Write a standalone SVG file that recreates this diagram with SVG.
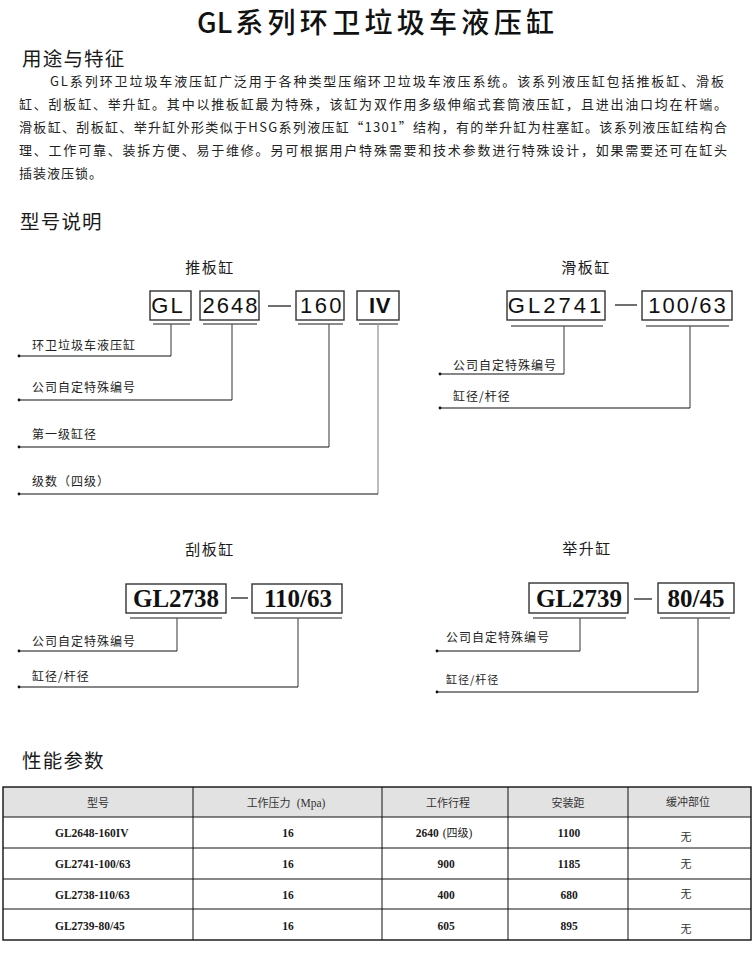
<svg xmlns="http://www.w3.org/2000/svg" width="756" height="953" viewBox="0 0 756 953">
<style>
.cjk{font-family:'Noto Sans CJK SC',sans-serif;fill:#1a1a1a}
.title{font-size:28px;fill:#111;font-weight:500}
.h2{font-size:19.5px;letter-spacing:1.2px}
.para{font-size:13px;fill:#222}
.sub{font-size:15px;letter-spacing:1.5px;text-anchor:middle}
.lbl{font-size:12px;letter-spacing:1px;fill:#222}
.lbls{font-size:11px;letter-spacing:1px;fill:#222}
.box{fill:#fff;stroke:#333;stroke-width:1.4}
.bt{font-family:'Liberation Sans','Noto Sans CJK SC',sans-serif;font-size:22px;fill:#111;text-anchor:middle}
.bs{font-family:'Liberation Serif',serif;font-weight:bold;font-size:25px;fill:#111;text-anchor:middle}
.ul{stroke:#666;stroke-width:1.3;fill:none}
.vl{stroke:#555;stroke-width:1.2;fill:none}
.vlg{stroke:#999;stroke-width:1.3;fill:none}
.hl{stroke:#111;stroke-width:1.1;fill:none}
.dash{stroke:#333;stroke-width:1.4}
.dot{fill:#111}
.th{font-family:'Noto Sans CJK SC',sans-serif;font-size:11px;fill:#333;text-anchor:middle}
.td{font-family:'Liberation Serif',serif;font-weight:bold;font-size:11.5px;fill:#1a1a1a;text-anchor:middle}
.tdl{font-family:'Liberation Serif',serif;font-weight:bold;font-size:11.5px;fill:#1a1a1a;text-anchor:start}
.tl{stroke:#111;stroke-width:1;fill:none}
</style>

<g id="header">
<text class="cjk title" x="197" y="33">GL<tspan dx="3" letter-spacing="4.3">系列环卫垃圾车液压缸</tspan></text>
<text class="cjk h2" x="22" y="66">用途与特征</text>
<text class="cjk para" x="50" y="86" textLength="674" lengthAdjust="spacing">GL系列环卫垃圾车液压缸广泛用于各种类型压缩环卫垃圾车液压系统。该系列液压缸包括推板缸、滑板</text>
<text class="cjk para" x="19" y="109" textLength="708" lengthAdjust="spacing">缸、刮板缸、举升缸。其中以推板缸最为特殊，该缸为双作用多级伸缩式套筒液压缸，且进出油口均在杆端。</text>
<text class="cjk para" x="19" y="132" textLength="708" lengthAdjust="spacing">滑板缸、刮板缸、举升缸外形类似于HSG系列液压缸“1301”结构，有的举升缸为柱塞缸。该系列液压缸结构合</text>
<text class="cjk para" x="19" y="155" textLength="708" lengthAdjust="spacing">理、工作可靠、装拆方便、易于维修。另可根据用户特殊需要和技术参数进行特殊设计，如果需要还可在缸头</text>
<text class="cjk para" x="19" y="178" letter-spacing="1">插装液压锁。</text>
<text class="cjk h2" x="20" y="229">型号说明</text>
<text class="cjk h2" x="22" y="768">性能参数</text>
</g>

<g id="push-cylinder">
<text class="cjk sub" x="210" y="273">推板缸</text>
<g id="n-gl"><rect class="box" x="150" y="291" width="41" height="29"/><text class="bt" x="168" y="313" letter-spacing="2">GL</text></g>
<g id="n-2648"><rect class="box" x="200" y="291" width="59" height="29"/><text class="bt" x="231" y="313" letter-spacing="2">2648</text></g>
<g id="n-160"><rect class="box" x="296" y="291" width="48" height="29"/><text class="bt" x="322" y="313" letter-spacing="2.5">160</text></g>
<g id="n-iv"><rect class="box" x="357" y="291" width="42" height="29"/><text class="bt" x="380" y="313" font-weight="bold" letter-spacing="0.5">IV</text></g>
<line class="dash" x1="268" y1="306" x2="291" y2="306"/>
<text class="cjk lbl" x="32" y="350">环卫垃圾车液压缸</text>
<text class="cjk lbl" x="32" y="392">公司自定特殊编号</text>
<text class="cjk lbl" x="32" y="439">第一级缸径</text>
<text class="cjk lbl" x="32" y="486">级数（四级）</text>
</g>

<g id="slide-cylinder">
<text class="cjk sub" x="586" y="273">滑板缸</text>
<g id="n-gl2741"><rect class="box" x="507" y="291" width="98" height="29"/><text class="bt" x="556" y="313" letter-spacing="3">GL2741</text></g>
<g id="n-100-63"><rect class="box" x="642" y="291" width="90" height="29"/><text class="bt" x="688" y="313" letter-spacing="2">100/63</text></g>
<line class="dash" x1="615" y1="305" x2="637" y2="305"/>
<text class="cjk lbl" x="453" y="370">公司自定特殊编号</text>
<text class="cjk lbl" x="453" y="401">缸径/杆径</text>
</g>

<g id="scraper-cylinder">
<text class="cjk sub" x="210" y="555">刮板缸</text>
<g id="n-gl2738"><rect class="box" x="126" y="584" width="100" height="29"/><text class="bs" x="176" y="607">GL2738</text></g>
<g id="n-110-63"><rect class="box" x="252" y="584" width="90" height="29"/><text class="bs" x="298" y="607">110/63</text></g>
<line class="dash" x1="231" y1="598" x2="248" y2="598"/>
<text class="cjk lbl" x="32" y="646">公司自定特殊编号</text>
<text class="cjk lbl" x="32" y="681">缸径/杆径</text>
</g>

<g id="lift-cylinder">
<text class="cjk sub" x="587" y="554">举升缸</text>
<g id="n-gl2739"><rect class="box" x="529" y="583" width="99" height="30"/><text class="bs" x="579" y="607">GL2739</text></g>
<g id="n-80-45"><rect class="box" x="658" y="583" width="76" height="30"/><text class="bs" x="696" y="607">80/45</text></g>
<line class="dash" x1="634" y1="599" x2="652" y2="599"/>
<text class="cjk lbl" x="446" y="642">公司自定特殊编号</text>
<text class="cjk lbls" x="446" y="684">缸径/杆径</text>
</g>

<g id="connectors">
<line class="ul" x1="153" y1="324" x2="190" y2="324"/>
<line class="ul" x1="203" y1="324" x2="257" y2="324"/>
<line class="ul" x1="298" y1="324" x2="343" y2="324"/>
<line class="ul" x1="359" y1="324" x2="398" y2="324"/>
<line class="ul" x1="511" y1="326" x2="603" y2="326"/>
<line class="ul" x1="646" y1="326" x2="729" y2="326"/>
<line class="ul" x1="130" y1="618" x2="222" y2="618"/>
<line class="ul" x1="254" y1="618" x2="342" y2="618"/>
<line class="ul" x1="533" y1="618" x2="626" y2="618"/>
<line class="ul" x1="660" y1="618" x2="730" y2="618"/>
<polyline class="vl" points="171,324 171,356"/>
<polyline class="hl" points="19,356 171,356"/>
<polyline class="vl" points="232,324 232,400"/>
<polyline class="hl" points="19,400 232,400"/>
<polyline class="vl" points="329,324 329,447"/>
<polyline class="hl" points="19,447 329,447"/>
<polyline class="vlg" points="378,324 378,494"/>
<polyline class="hl" points="19,494 378,494"/>
<polyline class="vl" points="564,326 564,374"/>
<polyline class="hl" points="440,374 564,374"/>
<polyline class="vl" points="690,326 690,408"/>
<polyline class="hl" points="440,408 690,408"/>
<polyline class="vl" points="177,618 177,651"/>
<polyline class="hl" points="19,651 177,651"/>
<polyline class="vl" points="298,618 298,687"/>
<polyline class="hl" points="19,687 298,687"/>
<polyline class="vl" points="580,618 580,651"/>
<polyline class="hl" points="437,651 580,651"/>
<polyline class="vl" points="698,618 698,692"/>
<polyline class="hl" points="437,692 698,692"/>
<circle class="dot" cx="19" cy="356" r="1.4"/>
<circle class="dot" cx="19" cy="400" r="1.4"/>
<circle class="dot" cx="19" cy="447" r="1.4"/>
<circle class="dot" cx="19" cy="494" r="1.4"/>
<circle class="dot" cx="440" cy="374" r="1.4"/>
<circle class="dot" cx="440" cy="408" r="1.4"/>
<circle class="dot" cx="19" cy="651" r="1.4"/>
<circle class="dot" cx="19" cy="687" r="1.4"/>
<circle class="dot" cx="437" cy="651" r="1.4"/>
<circle class="dot" cx="437" cy="692" r="1.4"/>
</g>

<g id="table">
<rect x="3" y="787" width="748" height="30" fill="#e2e2e2"/>
<rect x="3" y="787" width="748" height="153" fill="none" stroke="#111" stroke-width="1.4"/>
<line class="tl" x1="3" y1="817" x2="751" y2="817"/>
<line class="tl" x1="3" y1="848" x2="751" y2="848"/>
<line class="tl" x1="3" y1="879" x2="751" y2="879"/>
<line class="tl" x1="3" y1="909" x2="751" y2="909"/>
<line class="tl" x1="193" y1="787" x2="193" y2="940"/>
<line class="tl" x1="382" y1="787" x2="382" y2="940"/>
<line class="tl" x1="508" y1="787" x2="508" y2="940"/>
<line class="tl" x1="628" y1="787" x2="628" y2="940"/>
<text class="th" x="286" y="807">工作压力<tspan dx="6" font-family="'Liberation Serif',serif" font-size="11.5px">(Mpa)</tspan></text>
<text class="th" x="98" y="807">型号</text>
<text class="th" x="448" y="807">工作行程</text>
<text class="th" x="568" y="807">安装距</text>
<text class="th" x="688" y="806">缓冲部位</text>

<text class="tdl" x="55" y="837">GL2648-160IV</text>
<text class="tdl" x="55" y="868">GL2741-100/63</text>
<text class="tdl" x="55" y="899">GL2738-110/63</text>
<text class="tdl" x="55" y="930">GL2739-80/45</text>

<text class="td" x="288" y="837">16</text>
<text class="td" x="288" y="868">16</text>
<text class="td" x="288" y="899">16</text>
<text class="td" x="288" y="930">16</text>

<text class="td" x="444" y="837">2640<tspan dx="4" font-weight="normal">(</tspan><tspan font-family="'Noto Sans CJK SC',sans-serif" font-weight="normal" font-size="11px">四级</tspan><tspan font-weight="normal">)</tspan></text>
<text class="td" x="446" y="868">900</text>
<text class="td" x="446" y="899">400</text>
<text class="td" x="446" y="930">605</text>

<text class="td" x="569" y="837">1100</text>
<text class="td" x="569" y="868">1185</text>
<text class="td" x="569" y="899">680</text>
<text class="td" x="569" y="930">895</text>

<text class="th" x="686" y="841" fill="#111">无</text>
<text class="th" x="686" y="868" fill="#111">无</text>
<text class="th" x="686" y="898" fill="#111">无</text>
<text class="th" x="686" y="933" fill="#111">无</text>
</g>
</svg>
